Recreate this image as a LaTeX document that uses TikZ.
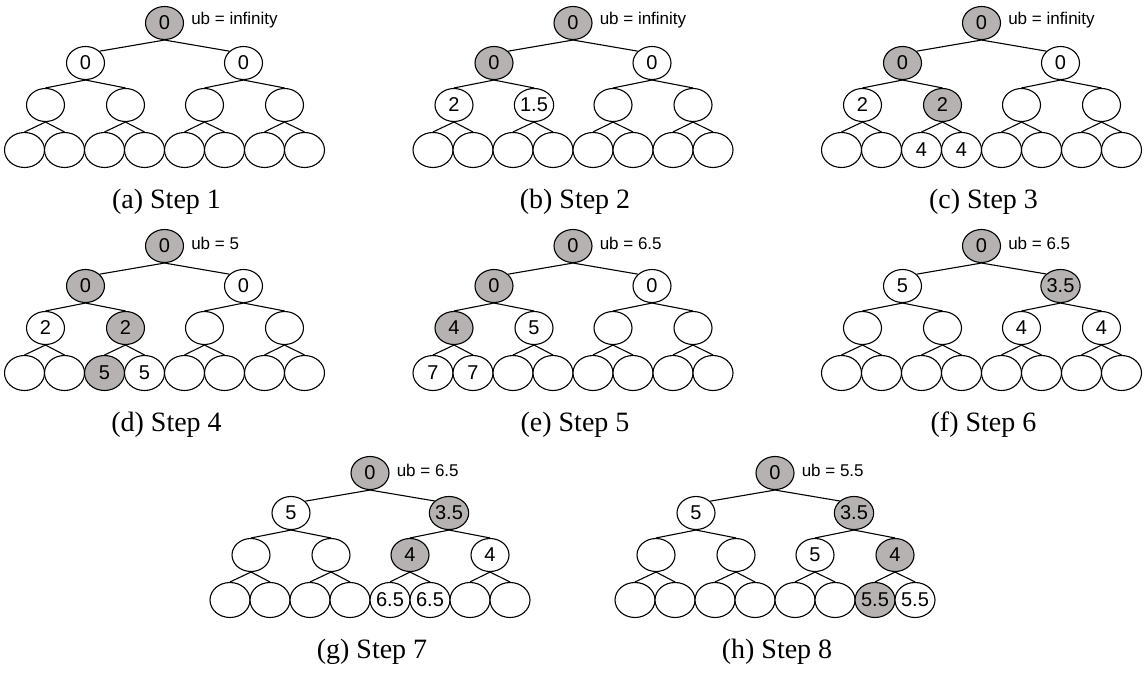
\documentclass[tikz,border=0pt]{standalone}
\usepackage{fontspec}
\setmainfont{Liberation Serif}
\newfontfamily\sansf{Liberation Sans}
\usetikzlibrary{shapes.geometric}
\definecolor{gnode}{RGB}{182,178,178}
\tikzset{
  nd/.style={ellipse, draw=black, line width=1.1bp, minimum width=38bp, minimum height=33bp, inner sep=0pt, font=\sansf\fontsize{20bp}{20bp}\selectfont},
  lf/.style={nd, minimum width=40bp, minimum height=35bp},
  ed/.style={line width=1.1bp},
  captext/.style={font=\fontsize{28bp}{30bp}\selectfont, inner sep=0pt},
  ubl/.style={anchor=west, font=\sansf\fontsize{17bp}{17bp}\selectfont, inner sep=0pt}
}
\newcommand\TN[5]{%
  \ifcsname G@#1-#2\endcsname\def\tmpf{gnode}\else\def\tmpf{white}\fi
  \node[#5, fill=\tmpf] (#1-#2) at (#3,#4) {\ifcsname L@#1-#2\endcsname\csname L@#1-#2\endcsname\fi};}
\newcommand\SetL[2]{\foreach \k/\v in {#2}{\expandafter\xdef\csname L@#1-\k\endcsname{\v}}}
\newcommand\SetG[2]{\foreach \k in {#2}{\expandafter\gdef\csname G@#1-\k\endcsname{}}}
\newcommand\Tree[5]{%
  \TN{#1}{r}{#2}{#3}{nd}
  \TN{#1}{a}{#2-79}{#3+40}{nd}
  \TN{#1}{b}{#2+79}{#3+40}{nd}
  \TN{#1}{aa}{#2-119}{#3+82}{nd}
  \TN{#1}{ab}{#2-39}{#3+82}{nd}
  \TN{#1}{ba}{#2+40}{#3+82}{nd}
  \TN{#1}{bb}{#2+120}{#3+82}{nd}
  \TN{#1}{aaa}{#2-140}{#3+127}{lf}
  \TN{#1}{aab}{#2-100}{#3+127}{lf}
  \TN{#1}{aba}{#2-60}{#3+127}{lf}
  \TN{#1}{abb}{#2-20}{#3+127}{lf}
  \TN{#1}{baa}{#2+20}{#3+127}{lf}
  \TN{#1}{bab}{#2+60}{#3+127}{lf}
  \TN{#1}{bba}{#2+100}{#3+127}{lf}
  \TN{#1}{bbb}{#2+140}{#3+127}{lf}
  \draw[ed] (#1-r.south) -- (#1-a.40);
  \draw[ed] (#1-r.south) -- (#1-b.140);
  \foreach \p in {a,b,aa,ab,ba,bb}{%
    \draw[ed] (#1-\p.south) -- (#1-\p a.north);
    \draw[ed] (#1-\p.south) -- (#1-\p b.north);
  }
  \node[ubl] (#1-ub) at ([xshift=7bp,yshift=3bp]#1-r.east) {ub = #4};
  \node[captext] (#1-cap) at (#2+2,#3+179) {#5};
}
\begin{document}
\begin{tikzpicture}[x=1bp,y=-1bp]
\useasboundingbox (0,0) rectangle (1144,673);
% (a)
\SetL{a}{r/0,a/0,b/0}\SetG{a}{r}
\Tree{a}{164.5}{23}{infinity}{(a) Step 1}
% (b)
\SetL{b}{r/0,a/0,b/0,aa/2,ab/1.5}\SetG{b}{r,a}
\Tree{b}{573}{23}{infinity}{(b) Step 2}
% (c)
\SetL{c}{r/0,a/0,b/0,aa/2,ab/2,aba/4,abb/4}\SetG{c}{r,a,ab}
\Tree{c}{981.5}{23}{infinity}{(c) Step 3}
% (d)
\SetL{d}{r/0,a/0,b/0,aa/2,ab/2,aba/5,abb/5}\SetG{d}{r,a,ab,aba}
\Tree{d}{164.5}{246}{5}{(d) Step 4}
% (e)
\SetL{e}{r/0,a/0,b/0,aa/4,ab/5,aaa/7,aab/7}\SetG{e}{r,a,aa}
\Tree{e}{573}{246}{6.5}{(e) Step 5}
% (f)
\SetL{f}{r/0,a/5,b/3.5,ba/4,bb/4}\SetG{f}{r,b}
\Tree{f}{981.5}{246}{6.5}{(f) Step 6}
% (g)
\SetL{g}{r/0,a/5,b/3.5,ba/4,bb/4,baa/6.5,bab/6.5}\SetG{g}{r,b,ba}
\Tree{g}{370}{473}{6.5}{(g) Step 7}
% (h)
\SetL{h}{r/0,a/5,b/3.5,ba/5,bb/4,bba/5.5,bbb/5.5}\SetG{h}{r,b,bb,bba}
\Tree{h}{775}{473}{5.5}{(h) Step 8}
\end{tikzpicture}
\end{document}
